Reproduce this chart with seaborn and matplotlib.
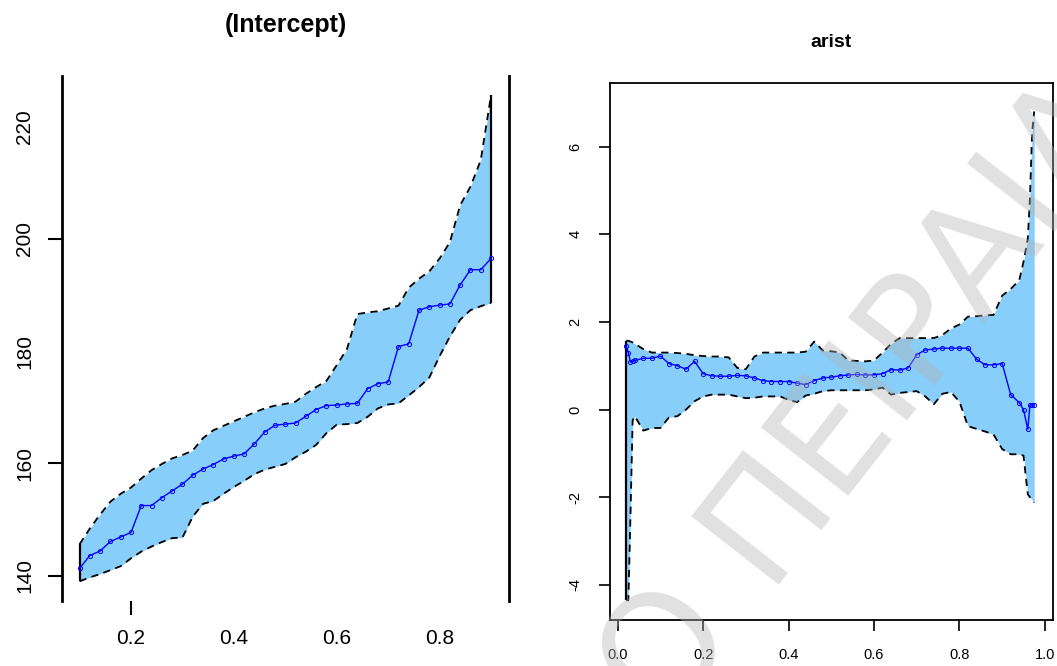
import numpy as np
import matplotlib
matplotlib.use("Agg")
import matplotlib.pyplot as plt
import seaborn as sns

sns.set_style("white")
plt.rcParams['font.family'] = ['Liberation Sans', 'DejaVu Sans']
plt.rcParams['text.color'] = 'black'
plt.rcParams['xtick.color'] = 'black'
plt.rcParams['ytick.color'] = 'black'

# --- (Intercept) panel: quantile process with confidence band ---
int_tau = [0.10, 0.12, 0.14, 0.16, 0.18, 0.20, 0.22, 0.24, 0.26, 0.28,
           0.30, 0.32, 0.34, 0.36, 0.38, 0.40, 0.42, 0.44, 0.46, 0.48,
           0.50, 0.52, 0.54, 0.56, 0.58, 0.60, 0.62, 0.64, 0.66, 0.68,
           0.70, 0.72, 0.74, 0.76, 0.78, 0.80, 0.82, 0.84, 0.86, 0.88, 0.90]
int_upper = [145.6, 148.4, 150.9, 153.2, 154.6, 155.7, 157.3, 158.8, 159.9, 160.9,
             161.5, 162.3, 164.5, 165.9, 166.7, 167.5, 168.3, 169.1, 169.8, 170.3,
             170.6, 171.0, 172.4, 173.6, 174.7, 177.5, 180.4, 186.6, 186.9, 187.1,
             187.6, 188.1, 191.3, 192.9, 194.2, 196.5, 199.4, 206.0, 209.3, 214.0, 225.6]
int_lower = [139.0, 139.7, 140.3, 141.0, 141.7, 143.1, 144.3, 145.2, 146.0, 146.7,
             146.8, 150.5, 152.8, 153.3, 154.6, 155.8, 156.9, 158.1, 158.9, 159.4,
             159.9, 161.1, 162.1, 163.3, 165.4, 166.9, 167.0, 167.2, 168.3, 169.8,
             170.5, 170.7, 172.1, 173.6, 175.3, 179.1, 182.6, 185.6, 187.3, 188.0, 188.6]
int_coef = [141.3, 143.6, 144.4, 146.1, 146.9, 147.7, 152.5, 152.5, 153.9, 155.1,
            156.3, 157.9, 159.0, 159.8, 160.8, 161.3, 161.7, 163.5, 165.6, 166.8,
            167.0, 167.2, 168.4, 169.6, 170.3, 170.4, 170.6, 170.7, 173.3, 174.2,
            174.5, 180.8, 181.3, 187.3, 187.9, 188.2, 188.4, 191.8, 194.5, 194.5, 196.5]
int_xticks = [0.2, 0.4, 0.6, 0.8]
int_xlabels = ['0.2', '0.4', '0.6', '0.8']
int_yticks = [140, 160, 180, 200, 220]
int_ylabels = ['140', '160', '180', '200', '220']

# --- arist panel ---
ar_tau = [0.02, 0.025, 0.03, 0.035, 0.04,
          0.06, 0.08, 0.10, 0.12, 0.14, 0.16, 0.18, 0.20, 0.22, 0.24,
          0.26, 0.28, 0.30, 0.32, 0.34, 0.36, 0.38, 0.40, 0.42, 0.44,
          0.46, 0.48, 0.50, 0.52, 0.54, 0.56, 0.58, 0.60, 0.62, 0.64,
          0.66, 0.68, 0.70, 0.72, 0.74, 0.76, 0.78, 0.80, 0.82, 0.84,
          0.86, 0.88, 0.90, 0.92, 0.94,
          0.95, 0.96, 0.965, 0.97, 0.975]
ar_upper = [1.57, 1.57, 1.55, 1.53, 1.50,
            1.38, 1.30, 1.30, 1.30, 1.29, 1.27, 1.24, 1.22, 1.21, 1.21,
            1.19, 0.95, 0.92, 1.21, 1.30, 1.30, 1.30, 1.30, 1.30, 1.32,
            1.55, 1.35, 1.33, 1.30, 1.12, 1.11, 1.10, 1.12, 1.30, 1.50,
            1.63, 1.63, 1.63, 1.63, 1.63, 1.70, 1.85, 1.94, 2.12, 2.13,
            2.15, 2.16, 2.60, 2.75, 2.95,
            3.37, 3.90, 4.80, 6.30, 6.80]
ar_lower = [-4.35, -4.35, -2.40, -0.25, -0.15,
            -0.48, -0.42, -0.42, -0.18, -0.15, 0.00, 0.19, 0.30, 0.34, 0.34,
            0.34, 0.30, 0.26, 0.27, 0.30, 0.30, 0.30, 0.22, 0.17, 0.32,
            0.36, 0.42, 0.44, 0.44, 0.44, 0.44, 0.44, 0.46, 0.50, 0.34,
            0.38, 0.40, 0.42, 0.30, 0.12, 0.36, 0.40, 0.18, -0.38, -0.44,
            -0.50, -0.57, -0.90, -1.02, -1.02,
            -1.05, -1.93, -2.00, -2.06, -2.12]
ar_coef = [1.44, 1.30, 1.08, 1.10, 1.12,
           1.17, 1.17, 1.22, 1.05, 1.00, 0.92, 1.10, 0.82, 0.77, 0.76,
           0.76, 0.78, 0.77, 0.72, 0.66, 0.64, 0.64, 0.64, 0.60, 0.57,
           0.66, 0.72, 0.74, 0.77, 0.79, 0.80, 0.79, 0.79, 0.82, 0.91,
           0.90, 0.95, 1.25, 1.36, 1.38, 1.40, 1.40, 1.40, 1.40, 1.15,
           1.02, 1.02, 1.05, 0.34, 0.16,
           0.00, -0.45, 0.10, 0.10, 0.10]
ar_xticks = [0.0, 0.2, 0.4, 0.6, 0.8, 1.0]
ar_xlabels = ['0.0', '0.2', '0.4', '0.6', '0.8', '1.0']
ar_yticks = [-4, -2, 0, 2, 4, 6]
ar_ylabels = ['-4', '-2', '0', '2', '4', '6']

FILL = '#87cefa'
COEF = '#0000ff'
DASH = (0, (4, 3))


def draw_band(ax, tau, lo, hi, coef, vert_right=True):
    ax.fill_between(tau, lo, hi, color=FILL, linewidth=0, zorder=1)
    sns.lineplot(x=tau, y=hi, ax=ax, color='black', linestyle=DASH, linewidth=1.3,
                 sort=False, zorder=2)
    sns.lineplot(x=tau, y=lo, ax=ax, color='black', linestyle=DASH, linewidth=1.3,
                 sort=False, zorder=2)
    ax.vlines(tau[0], lo[0], hi[0], color='black', linewidth=1.6, zorder=2)
    if vert_right:
        ax.vlines(tau[-1], lo[-1], hi[-1], color='black', linewidth=1.6, zorder=2)
    sns.lineplot(x=tau, y=coef, ax=ax, color=COEF, linewidth=1.0, marker='o',
                 markersize=3, markerfacecolor='none', markeredgecolor=COEF,
                 markeredgewidth=0.7, sort=False, zorder=3)


fig = plt.figure(figsize=(10.57, 6.66), dpi=100)

# left panel
ax1 = fig.add_axes([0.0587, 0.0976, 0.4229, 0.7883])
draw_band(ax1, int_tau, int_lower, int_upper, int_coef)
ax1.set_xlim(0.066, 0.935)
ax1.set_ylim(135.5, 229.0)
ax1.set_xticks(int_xticks)
ax1.set_xticklabels(int_xlabels, fontsize=15)
ax1.set_yticks(int_yticks)
ax1.set_yticklabels(int_ylabels, fontsize=15, rotation=90, va='center')
ax1.tick_params(axis='both', direction='out', length=10, width=1.5, color='black',
                labelcolor='black', left=True, bottom=True, pad=10)
# only some tick marks survive in the scanned original
for t, keep in zip(ax1.xaxis.get_major_ticks(), [True, False, False, False]):
    t.tick1line.set_visible(keep)
for t, keep in zip(ax1.yaxis.get_major_ticks(), [True, True, False, True, False]):
    t.tick1line.set_visible(keep)
for side in ['top', 'bottom']:
    ax1.spines[side].set_visible(False)
for side in ['left', 'right']:
    ax1.spines[side].set_linewidth(2.0)
    ax1.spines[side].set_color('black')
ax1.set_xlabel('')
ax1.set_ylabel('')
ax1.set_title('(Intercept)', fontsize=18, fontweight='bold', pad=32, color='black')

# right panel
ax2 = fig.add_axes([0.5771, 0.0691, 0.4191, 0.8063])
draw_band(ax2, ar_tau, ar_lower, ar_upper, ar_coef, vert_right=False)
ax2.set_xlim(-0.018, 1.019)
ax2.set_ylim(-4.8, 7.45)
ax2.set_xticks(ar_xticks)
ax2.set_xticklabels(ar_xlabels, fontsize=10.5)
ax2.set_yticks(ar_yticks)
ax2.set_yticklabels(ar_ylabels, fontsize=10.5, rotation=90, va='center')
ax2.tick_params(axis='both', direction='out', length=8, width=1.2, color='black',
                labelcolor='black', left=True, bottom=True, pad=12)
for side in ['top', 'bottom', 'left', 'right']:
    ax2.spines[side].set_visible(True)
    ax2.spines[side].set_linewidth(1.3)
    ax2.spines[side].set_color('black')
ax2.set_xlabel('')
ax2.set_ylabel('')
ax2.set_title('arist', fontsize=14, fontweight='bold', pad=26, color='black')

# repository watermark across the right panel
wm = dict(fontsize=109, color='#b4b4b4', alpha=0.4, rotation=52,
          rotation_mode='anchor', va='baseline', family=['DejaVu Sans'])
fig.text(0.7223, 0.1224, 'ΠΕΙΡΑΙΑ', ha='left', **wm)
fig.text(0.6943, 0.0656, 'ΠΑΝΕΠΙΣΤΗΜΙΟ', ha='right', **wm)

fig.savefig('out.png', dpi=100, facecolor='white')
